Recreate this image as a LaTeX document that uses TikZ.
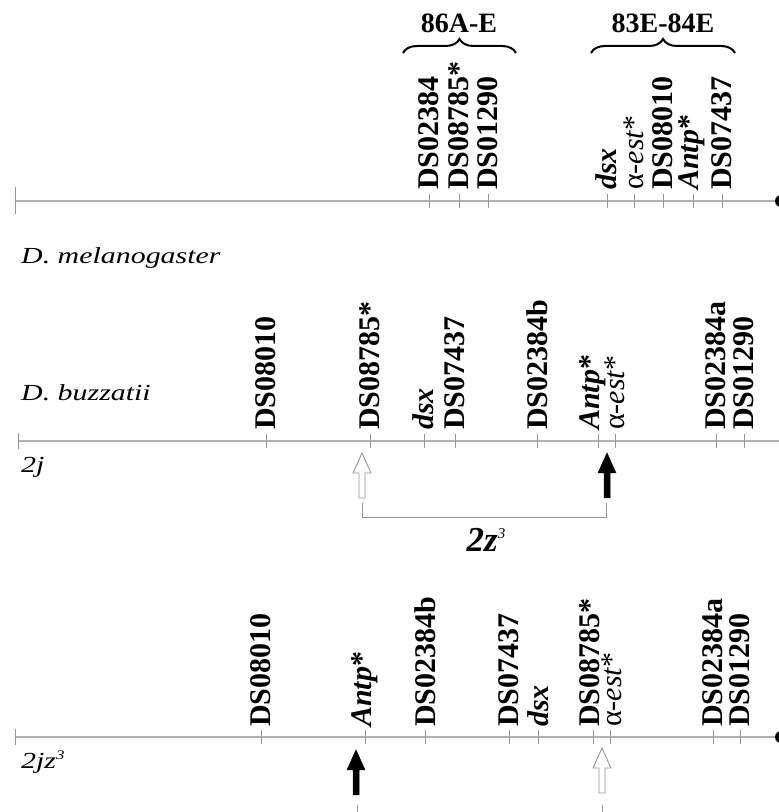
\documentclass[tikz,border=0pt]{standalone}
\usepackage{fontspec}
\setmainfont{Liberation Serif}
\usetikzlibrary{decorations.pathreplacing}
\definecolor{linegray}{RGB}{178,178,178}
\definecolor{tickgray}{RGB}{150,150,150}
\tikzset{
  chrom/.style={draw=linegray, line width=1.6pt},
  tickmark/.style={draw=tickgray, line width=0.9pt},
  lab/.style={rotate=90, anchor=west, inner sep=0pt, font=\fontsize{30}{31}\selectfont\bfseries},
  ilab/.style={lab, font=\fontsize{30}{31}\selectfont\bfseries\itshape},
  alab/.style={lab, font=\fontsize{30}{31}\selectfont},
  species/.style={anchor=west, inner sep=0pt, font=\fontsize{23}{25}\selectfont\itshape},
  region/.style={inner sep=0pt, font=\fontsize{28}{29}\selectfont\bfseries},
  bracebox/.style={decorate, decoration={brace, amplitude=14pt}, line width=2pt},
  bracket/.style={draw=tickgray, line width=0.9pt},
  blackarrow/.style={fill=black, draw=black, line width=0.5pt},
  whitearrow/.style={fill=white, draw=tickgray, line width=0.9pt}
}
\newcommand{\blockarrow}[3]{% x, tip y, style
  \draw[#3] (#1,#2) -- ++(9,-20) -- ++(-6,0) -- ++(0,-25) -- ++(-6,0) -- ++(0,25) -- ++(-6,0) -- cycle;}
\newcommand{\alphaest}{α\textit{-est}*}
\begin{document}
\begin{tikzpicture}[x=1pt,y=1pt]
\useasboundingbox (0,0) rectangle (779,812);

% ---------- line 1 : D. melanogaster ----------
\coordinate (l1s) at (15,611);
\coordinate (l1e) at (781,611);
\draw[chrom] (l1s) -- (l1e);
\draw[tickmark] (15,598) -- (15,625);
\fill (l1e) circle (6);
\foreach \x in {429,459,488,607,634,663,693,722}{\draw[tickmark] (\x,604) -- (\x,618);}
\node[lab] (a1) at (429,622) {DS02384};
\node[lab] (a2) at (459,622) {DS08785*};
\node[lab] (a3) at (488,622) {DS01290};
\node[ilab] (a4) at (606,622) {dsx};
\node[alab] (a5) at (634,622) {\alphaest};
\node[lab] (a6) at (663,622) {DS08010};
\node[ilab] (a7) at (692,622) {Antp\textup{*}};
\node[lab] (a8) at (722,622) {DS07437};
\draw[bracebox] (403,759) -- (516,759);
\draw[bracebox] (591,759) -- (735,759);
\node[region] (r1) at (459,789) {86A-E};
\node[region] (r2) at (663,789) {83E-84E};
\node[species] (sp1) at (21,554) {\scalebox{1.3}[1]{D. melanogaster}};

% ---------- line 2 : D. buzzatii 2j ----------
\coordinate (l2s) at (18,371);
\coordinate (l2e) at (785,371);
\draw[chrom] (l2s) -- (l2e);
\draw[tickmark] (18,363) -- (18,379);
\foreach \x in {266,370,424,455,537,598,615,716,744}{\draw[tickmark] (\x,364) -- (\x,378);}
\node[lab] (b1) at (266,382) {DS08010};
\node[lab] (b2) at (370,382) {DS08785*};
\node[ilab] (b3) at (423,382) {dsx};
\node[lab] (b4) at (455,382) {DS07437};
\node[lab] (b5) at (537,382) {DS02384b};
\node[ilab] (b6) at (593,382) {Antp\textup{*}};
\node[alab] (b7) at (615,382) {\alphaest};
\node[lab] (b8) at (716,382) {DS02384a};
\node[lab] (b9) at (744,382) {DS01290};
\node[species] (sp2) at (21,419) {\scalebox{1.3}[1]{D. buzzatii}};
\node[species] (k2) at (21,345) {\scalebox{1.3}[1]{2j}};
\blockarrow{362}{359}{whitearrow}
\blockarrow{607}{359}{blackarrow}
\coordinate (q1) at (362,309);
\coordinate (q2) at (606,309);
\draw[bracket] (q1) -- ++(0,-14) -| (q2);
\node[inner sep=0pt, font=\fontsize{35}{37}\selectfont\bfseries\itshape] (z3) at (486,272) {2z\raisebox{13pt}{\fontsize{15}{16}\selectfont\mdseries 3}};

% ---------- line 3 : 2jz3 ----------
\coordinate (l3s) at (15,75);
\coordinate (l3e) at (781,75);
\draw[chrom] (l3s) -- (l3e);
\draw[tickmark] (15,67) -- (15,83);
\fill (l3e) circle (6);
\foreach \x in {261,365,425,509,538,593,610,713,740}{\draw[tickmark] (\x,68) -- (\x,82);}
\node[lab] (c1) at (261,85) {DS08010};
\node[ilab] (c2) at (365,85) {Antp\textup{*}};
\node[lab] (c3) at (425,85) {DS02384b};
\node[lab] (c4) at (509,85) {DS07437};
\node[ilab] (c5) at (538,85) {dsx};
\node[lab] (c6) at (590,85) {DS08785*};
\node[alab] (c7) at (612,85) {\alphaest};
\node[lab] (c8) at (713,85) {DS02384a};
\node[lab] (c9) at (740,85) {DS01290};
\node[species] (k3) at (21,50) {\scalebox{1.3}[1]{2jz\raisebox{9pt}{\fontsize{13}{14}\selectfont 3}}};
\blockarrow{356}{62}{blackarrow}
\blockarrow{602}{64}{whitearrow}
\coordinate (p1) at (357,7);
\coordinate (p2) at (602,7);
\draw[bracket] (p1) -- ++(0,-12);
\draw[bracket] (p2) -- ++(0,-12);
\end{tikzpicture}
\end{document}
